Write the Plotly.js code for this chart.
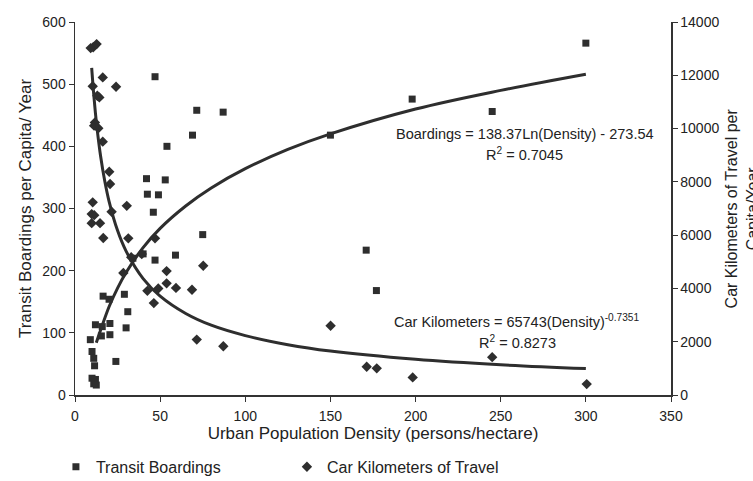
<!DOCTYPE html>
<html>
<head>
<meta charset="utf-8">
<script src="https://cdn.plot.ly/plotly-3.0.1.min.js"></script>
<style>html,body{margin:0;padding:0;background:#fff;} #chart{width:753px;height:481px;}</style>
</head>
<body>
<div id="chart"></div>
<script>
// Transit boardings (density persons/ha, boardings per capita/year)
var boardDensity = [300, 198, 245, 177, 171, 150, 71.5, 87, 69, 75, 47, 54, 42, 53, 42.5, 49, 46, 59, 40, 34, 47,
  16.5, 20, 29, 31, 30, 12, 16, 20.5, 20.5, 15.5, 9, 10, 11, 11.5, 24, 10, 12, 11, 12.5];
var boardValues = [566, 476, 456, 168, 233, 418, 458, 455, 418, 258, 512, 400, 348, 346, 323, 322, 294, 225, 227, 220, 217,
  159, 154, 162, 134, 108, 113, 110, 115, 97, 95, 89, 70, 59, 47, 54, 27, 25, 18, 16];

// Car kilometers of travel (density, km per capita/year)
var carDensity = [10.7, 12.7, 9.2, 16.3, 24.1, 10.4, 13.1, 14.3, 11.7, 11.2, 13.7, 16.3, 20.1, 20.6, 10.4, 30.4, 21.5,
  9.8, 11.3, 9.8, 14.7, 16.6, 31.3, 39.2, 47, 28.4, 33, 53.8, 53.8, 59.3, 68.7, 75.3, 42.5, 48.9, 46.3, 71.5, 87.1,
  150.1, 171.3, 177.2, 198.3, 245, 300.5];
var carValues = [13050, 13170, 13020, 11920, 11570, 11590, 11230, 11170, 10230, 10110, 10010, 9510, 8380, 7920, 7230,
  7100, 6880, 6790, 6750, 6450, 6450, 5890, 5880, 5290, 5880, 4580, 5170, 4650, 4190, 4020, 3950, 4850, 3910, 4000,
  3450, 2080, 1830, 2600, 1060, 1000, 660, 1420, 410];

// Trend curves
var boardTrendDensity = [12.5, 15, 20, 25, 30, 40, 50, 65, 80, 100, 125, 150, 200, 250, 300];
var boardTrendValues  = [84, 104, 142, 172, 197, 237, 268, 304, 333, 364, 395, 420, 460, 490, 516];
var carTrendDensity = [9.8, 11, 12, 13, 15, 17.5, 20, 25, 30, 40, 50, 65, 80, 100, 125, 150, 200, 250, 300];
var carTrendValues  = [12280, 11280, 10580, 9980, 8980, 8020, 7270, 6170, 5400, 4370, 3710, 3060, 2620, 2230, 1890, 1650, 1340, 1135, 990];

var xTicks = [0, 50, 100, 150, 200, 250, 300, 350];
var yLeftTicks = [0, 100, 200, 300, 400, 500, 600];
var yRightTicks = [0, 2000, 4000, 6000, 8000, 10000, 12000, 14000];

var ink = '#2e2e2e';
var font = 'Liberation Sans, Arial, sans-serif';

var traces = [
  {x: boardDensity, y: boardValues, type: 'scatter', mode: 'markers', name: 'Transit Boardings',
   marker: {symbol: 'square', size: 7, color: ink}},
  {x: carDensity, y: carValues, type: 'scatter', mode: 'markers', name: 'Car Kilometers of Travel', yaxis: 'y2',
   marker: {symbol: 'diamond', size: 8, color: ink}},
  {x: boardTrendDensity, y: boardTrendValues, type: 'scatter', mode: 'lines', showlegend: false,
   line: {color: ink, width: 3, shape: 'spline'}},
  {x: carTrendDensity, y: carTrendValues, type: 'scatter', mode: 'lines', showlegend: false, yaxis: 'y2',
   line: {color: ink, width: 3, shape: 'spline'}}
];

var layout = {
  width: 753, height: 481,
  margin: {l: 75, r: 82, t: 22, b: 86, autoexpand: false},
  paper_bgcolor: '#fff', plot_bgcolor: '#fff',
  font: {family: font, color: '#222', size: 14},
  showlegend: true,
  legend: {orientation: 'h', x: -0.032, xanchor: 'left', y: -0.147, yanchor: 'top',
           font: {size: 16, color: '#222'}, entrywidth: 186, entrywidthmode: 'pixels', itemwidth: 30},
  xaxis: {range: [0, 350], tickvals: xTicks, ticktext: xTicks.map(String), showgrid: false, zeroline: false,
          showline: true, linecolor: '#333', linewidth: 1.5, ticks: 'outside', ticklen: 5, tickcolor: '#333',
          ticklabelstandoff: 3, tickfont: {size: 14},
          title: {text: 'Urban Population Density (persons/hectare)', font: {size: 17}, standoff: 4}},
  yaxis: {range: [0, 600], tickvals: yLeftTicks, ticktext: yLeftTicks.map(String), showgrid: false, zeroline: false,
          showline: true, linecolor: '#333', linewidth: 1.5, ticks: 'outside', ticklen: 5, tickcolor: '#333',
          tickfont: {size: 14},
          title: {text: 'Transit Boardings per Capita/ Year', font: {size: 17}, standoff: 6}},
  yaxis2: {range: [0, 14000], overlaying: 'y', side: 'right', tickvals: yRightTicks, ticktext: yRightTicks.map(String),
           showgrid: false, zeroline: false, showline: true, linecolor: '#333', linewidth: 1.5,
           ticks: 'outside', ticklen: 5, tickcolor: '#333', tickfont: {size: 14}},
  annotations: [
    {xref: 'x', yref: 'y', x: 264, y: 420, text: 'Boardings = 138.37Ln(Density) - 273.54', showarrow: false,
     font: {size: 14.5}, xanchor: 'center', yanchor: 'middle'},
    {xref: 'x', yref: 'y', x: 264, y: 387, text: 'R<sup>2</sup> = 0.7045', showarrow: false,
     font: {size: 14.5}, xanchor: 'center', yanchor: 'middle'},
    {xref: 'x', yref: 'y', x: 259, y: 119, text: 'Car Kilometers = 65743(Density)<sup>-0.7351</sup>', showarrow: false,
     font: {size: 14.5}, xanchor: 'center', yanchor: 'middle'},
    {xref: 'x', yref: 'y', x: 260, y: 86, text: 'R<sup>2</sup> = 0.8273', showarrow: false,
     font: {size: 14.5}, xanchor: 'center', yanchor: 'middle'},
    {xref: 'paper', yref: 'paper', x: 1.119, y: 0.5, text: 'Car Kilometers of Travel per<br>Capita/Year',
     textangle: -90, showarrow: false, font: {size: 16}, xanchor: 'center', yanchor: 'middle', align: 'center'}
  ]
};

Plotly.newPlot('chart', traces, layout, {displayModeBar: false, staticPlot: true});
</script>
</body>
</html>
